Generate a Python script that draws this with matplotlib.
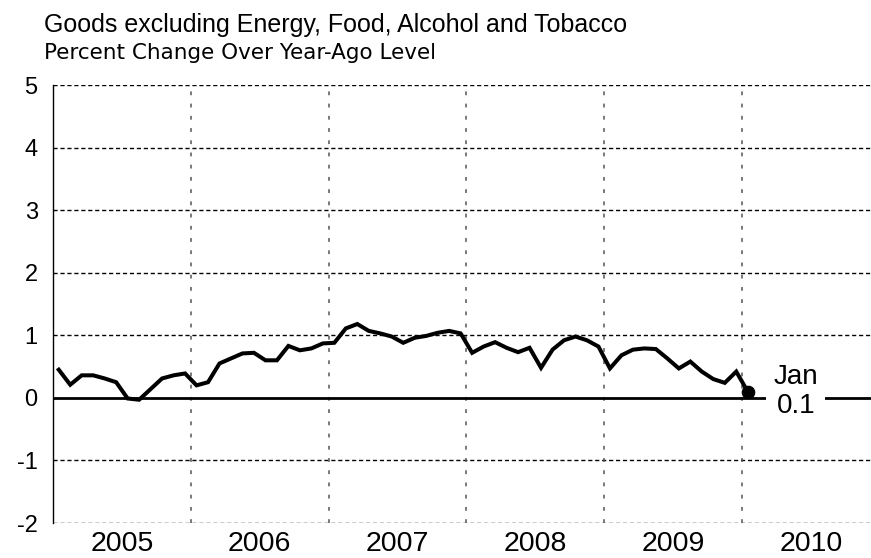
import matplotlib
matplotlib.use("Agg")
import matplotlib.pyplot as plt
from matplotlib import font_manager
import numpy as np

plt.rcParams['font.family'] = ['Liberation Sans', 'DejaVu Sans']

# Monthly data Jan 2005 .. Jan 2010 (percent change over year-ago level)
start_year = 2005
values = [
    0.45, 0.21, 0.36, 0.36, 0.31, 0.25, -0.01, -0.03, 0.14, 0.31, 0.36, 0.39,   # 2005
    0.20, 0.25, 0.55, 0.63, 0.71, 0.72, 0.60, 0.60, 0.83, 0.76, 0.79, 0.87,     # 2006
    0.88, 1.11, 1.18, 1.07, 1.03, 0.98, 0.88, 0.96, 0.99, 1.04, 1.07, 1.03,     # 2007
    0.72, 0.82, 0.89, 0.80, 0.73, 0.80, 0.48, 0.77, 0.92, 0.98, 0.92, 0.82,     # 2008
    0.47, 0.68, 0.77, 0.79, 0.78, 0.63, 0.47, 0.58, 0.42, 0.30, 0.24, 0.42,     # 2009
    0.10,                                                                         # 2010
]
year_labels = ["2005", "2006", "2007", "2008", "2009", "2010"]
y_ticks = [-2, -1, 0, 1, 2, 3, 4, 5]
last_label = "Jan\n0.1"
title = "Goods excluding Energy, Food, Alcohol and Tobacco"
subtitle = "Percent Change Over Year-Ago Level"

x = start_year + (np.arange(len(values)) + 0.5) / 12.0

names = {f.name for f in font_manager.fontManager.ttflist}
if 'Liberation Sans Narrow' in names:
    title_font = ['Liberation Sans Narrow', 'Liberation Sans']
    title_size = 21.5
else:
    title_font = ['Liberation Sans', 'DejaVu Sans']
    title_size = 18

fig = plt.figure(figsize=(8.71, 5.58), dpi=100)
W, H = 871, 558
ax = fig.add_axes([53 / W, 1 - 523 / H, (W - 53) / W, (523 - 85) / H])

ax.set_xlim(2005, 2005 + (W - 53) / 137.8)
ax.set_ylim(-2, 5)

# horizontal dashed grid
for yv in y_ticks:
    if yv != 0:
        ax.axhline(yv, color='black', lw=1.0, ls=(0, (3, 2)), zorder=1)
# vertical year boundaries
for yr in range(2006, 2011):
    ax.axvline(yr, color='#555555', lw=1.1, ls=(0, (2.5, 5.5)), zorder=1)

ax.axhline(0, color='black', lw=2.0, zorder=2)

ax.plot(x, values, color='black', lw=2.9, solid_joinstyle='miter', zorder=3)
ax.plot(x[-1], values[-1], 'o', color='black', ms=8.8, zorder=4)

ax.text(2010.39, 0.1, last_label, ha='center', va='center', fontsize=20,
        linespacing=1.15,
        bbox=dict(facecolor='white', edgecolor='none', pad=5), zorder=5)

for s in ['top', 'bottom', 'right']:
    ax.spines[s].set_visible(False)
ax.spines['left'].set_linewidth(1.0)

ax.set_yticks(y_ticks)
ax.set_yticklabels([str(v) for v in y_ticks], fontsize=17)
ax.set_xticks([yr + 0.5 for yr in range(2005, 2011)])
ax.set_xticklabels(year_labels, fontsize=20.5)
ax.tick_params(axis='both', length=0)
ax.tick_params(axis='y', pad=11)
ax.tick_params(axis='x', pad=6)

fig.text(44 / W, 1 - 32 / H, title, family=title_font,
         fontsize=title_size, ha='left', va='baseline')
fig.text(44 / W, 1 - 59 / H, subtitle, family=['DejaVu Sans'],
         fontsize=15.5, ha='left', va='baseline')

fig.savefig("out.png", dpi=100)
